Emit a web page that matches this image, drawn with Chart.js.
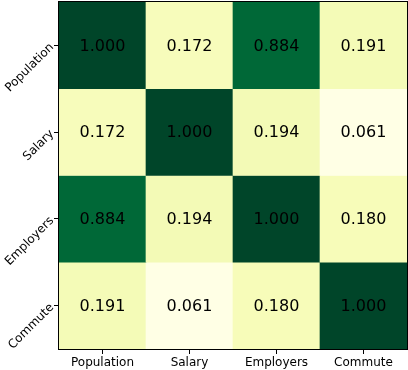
<!DOCTYPE html>
<html>
<head>
<meta charset="utf-8">
<script src="https://cdn.jsdelivr.net/npm/chart.js@4/dist/chart.umd.min.js"></script>
<style>
html,body{margin:0;padding:0;background:#fff;}
#wrap{width:408px;height:370px;position:relative;}
</style>
</head>
<body>
<div id="wrap"><canvas id="c" width="408" height="370"></canvas></div>
<script>
const categories = ['Population', 'Salary', 'Employers', 'Commute'];
const rowPopulation = [1.000, 0.172, 0.884, 0.191];
const rowSalary     = [0.172, 1.000, 0.194, 0.061];
const rowEmployers  = [0.884, 0.194, 1.000, 0.180];
const rowCommute    = [0.191, 0.061, 0.180, 1.000];
const rows = [rowPopulation, rowSalary, rowEmployers, rowCommute];

const YlGn = ['#ffffe5','#f7fcb9','#d9f0a3','#addd8e','#78c679','#41ab5d','#238443','#006837','#004529'];
function hex(h){return [parseInt(h.slice(1,3),16),parseInt(h.slice(3,5),16),parseInt(h.slice(5,7),16)];}
const allVals = rows.flat();
const vmin = Math.min(...allVals), vmax = Math.max(...allVals);
function cmap(v){
  let t = (v - vmin) / (vmax - vmin);
  t = Math.max(0, Math.min(1, t));
  const p = t * (YlGn.length - 1);
  const i = Math.min(Math.floor(p), YlGn.length - 2);
  const f = p - i;
  const a = hex(YlGn[i]), b = hex(YlGn[i+1]);
  const c = a.map((x,k)=>Math.round(x + (b[k]-x)*f));
  return `rgb(${c[0]},${c[1]},${c[2]})`;
}

const datasets = rows.map((row, r) => ({
  label: categories[r],
  data: row.map(() => [r - 0.5, r + 0.5]),
  backgroundColor: row.map(cmap),
  borderWidth: 0,
  barPercentage: 1.0,
  categoryPercentage: 1.0,
  grouped: false
}));

const FONT = 'DejaVu Sans';

const annot = {
  id: 'annot',
  afterDatasetsDraw(chart) {
    const ctx = chart.ctx;
    const xs = chart.scales.x, ys = chart.scales.y;
    ctx.save();
    ctx.font = `16px "${FONT}"`;
    ctx.fillStyle = '#000';
    ctx.textAlign = 'center';
    ctx.textBaseline = 'middle';
    rows.forEach((row, r) => {
      row.forEach((v, c) => {
        ctx.fillText(v.toFixed(3), xs.getPixelForValue(c), ys.getPixelForValue(r) + 1);
      });
    });
    const a = chart.chartArea;
    ctx.strokeStyle = '#000';
    ctx.lineWidth = 1;
    ctx.strokeRect(Math.round(a.left) - 0.5, Math.round(a.top) - 0.5, Math.round(a.right - a.left) + 1, Math.round(a.bottom - a.top) + 1);
    ctx.restore();
  }
};

new Chart(document.getElementById('c'), {
  type: 'bar',
  data: { labels: categories, datasets },
  options: {
    responsive: false,
    animation: false,
    devicePixelRatio: 1,
    layout: { padding: { top: 2, right: 1, left: 0, bottom: 0 } },
    plugins: { legend: { display: false }, tooltip: { enabled: false } },
    scales: {
      x: {
        type: 'category',
        offset: true,
        grid: { display: true, offset: false, drawOnChartArea: false, drawTicks: true, tickLength: 5, tickColor: '#000', tickWidth: 1 },
        border: { display: false },
        ticks: { color: '#000', font: { family: FONT, size: 12 }, padding: 2, maxRotation: 0, minRotation: 0 },
        afterFit(s) { s.height = 21; s.paddingLeft = 0; s.paddingRight = 0; }
      },
      y: {
        type: 'linear',
        min: -0.5, max: 3.5,
        reverse: true,
        afterBuildTicks(s) { s.ticks = categories.map((_, i) => ({ value: i })); },
        grid: { display: true, drawOnChartArea: false, drawTicks: true, tickLength: 5, tickColor: '#000', tickWidth: 1 },
        border: { display: false },
        ticks: {
          color: '#000', font: { family: FONT, size: 12 }, padding: 2,
          minRotation: 45, maxRotation: 45,
          callback: (v) => categories[v] ?? ''
        },
        afterFit(s) { s.width = 59; s.paddingTop = 0; s.paddingBottom = 0; }
      }
    }
  },
  plugins: [annot]
});
</script>
</body>
</html>
